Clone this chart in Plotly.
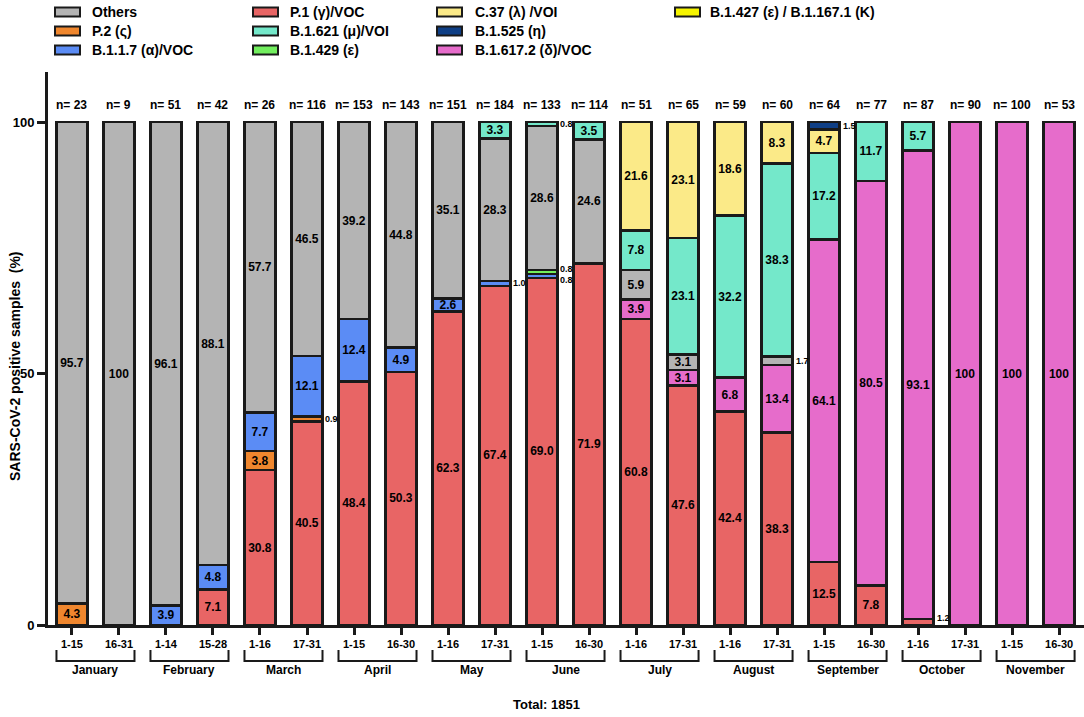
import plotly.graph_objects as go

# categories
PERIODS = ["1-15", "16-31", "1-14", "15-28", "1-16", "17-31", "1-15", "16-30",
           "1-16", "17-31", "1-15", "16-30", "1-16", "17-31", "1-16", "17-31",
           "1-15", "16-30", "1-16", "17-31", "1-15", "16-30"]
MONTHS = ["January", "February", "March", "April", "May", "June", "July",
          "August", "September", "October", "November"]
N_SAMPLES = [23, 9, 51, 42, 26, 116, 153, 143, 151, 184, 133, 114,
             51, 65, 59, 60, 64, 77, 87, 90, 100, 53]

# % of positive samples per lineage (one value per half-month)
P1 = [0, 0, 0, 7.1, 30.8, 40.5, 48.4, 50.3, 62.3, 67.4, 69.0, 71.9,
      60.8, 47.6, 42.4, 38.3, 12.5, 7.8, 1.2, 0, 0, 0]
P2 = [4.3, 0, 0, 0, 3.8, 0.9, 0, 0, 0, 0, 0, 0,
      0, 0, 0, 0, 0, 0, 0, 0, 0, 0]
B117 = [0, 0, 3.9, 4.8, 7.7, 12.1, 12.4, 4.9, 2.6, 1.0, 0.8, 0,
        0, 0, 0, 0, 0, 0, 0, 0, 0, 0]
B1429 = [0, 0, 0, 0, 0, 0, 0, 0, 0, 0, 0.8, 0,
         0, 0, 0, 0, 0, 0, 0, 0, 0, 0]
DELTA = [0, 0, 0, 0, 0, 0, 0, 0, 0, 0, 0, 0,
         3.9, 3.1, 6.8, 13.4, 64.1, 80.5, 93.1, 100, 100, 100]
OTHERS = [95.7, 100, 96.1, 88.1, 57.7, 46.5, 39.2, 44.8, 35.1, 28.3, 28.6, 24.6,
          5.9, 3.1, 0, 1.7, 0, 0, 0, 0, 0, 0]
B1621 = [0, 0, 0, 0, 0, 0, 0, 0, 0, 3.3, 0.8, 3.5,
         7.8, 23.1, 32.2, 38.3, 17.2, 11.7, 5.7, 0, 0, 0]
C37 = [0, 0, 0, 0, 0, 0, 0, 0, 0, 0, 0, 0,
       21.6, 23.1, 18.6, 8.3, 4.7, 0, 0, 0, 0, 0]
B1525 = [0, 0, 0, 0, 0, 0, 0, 0, 0, 0, 0, 0,
         0, 0, 0, 0, 1.5, 0, 0, 0, 0, 0]
B1427 = [0] * 22

# stack order, bottom -> top
SERIES = [
    ("P.1 (γ)/VOC", P1, "#e86565"),
    ("P.2 (ς)", P2, "#f0872e"),
    ("B.1.1.7 (α)/VOC", B117, "#5b8cf5"),
    ("B.1.429 (ε)", B1429, "#72ee5e"),
    ("B.1.617.2 (δ)/VOC", DELTA, "#e66ccb"),
    ("Others", OTHERS, "#b4b4b4"),
    ("B.1.621 (μ)/VOI", B1621, "#74e8ca"),
    ("C.37 (λ) /VOI", C37, "#fbea88"),
    ("B.1.525 (η)", B1525, "#0f3f86"),
    ("B.1.427 (ε) / B.1.167.1 (K)", B1427, "#f6f400"),
]

LEGEND_COLUMNS = [
    ["Others", "P.2 (ς)", "B.1.1.7 (α)/VOC"],
    ["P.1 (γ)/VOC", "B.1.621 (μ)/VOI", "B.1.429 (ε)"],
    ["C.37 (λ) /VOI", "B.1.525 (η)", "B.1.617.2 (δ)/VOC"],
    ["B.1.427 (ε) / B.1.167.1 (K)"],
]

# small segments labelled beside the bar: (bar index, series, vertical nudge px)
SIDE_LABELS = [(5, "P.2 (ς)", 0), (9, "B.1.1.7 (α)/VOC", 0),
               (10, "B.1.621 (μ)/VOI", 0), (10, "B.1.429 (ε)", 3),
               (10, "B.1.1.7 (α)/VOC", -4), (15, "Others", 0),
               (16, "B.1.525 (η)", 0), (18, "P.1 (γ)/VOC", 4)]

FONT = "Arial, Liberation Sans, sans-serif"
INK = "#1a1a1a"

# pixel frame of the plot area
PLOT_L, PLOT_R, PLOT_T, PLOT_B = 48, 1084, 72, 625
Y_TOP = 100 * (PLOT_B - PLOT_T) / 503  # 100% spans ~503 px


def px_x(p):
    return (p - PLOT_L) / (PLOT_R - PLOT_L)


def px_y(p):
    return (PLOT_B - p) / (PLOT_B - PLOT_T)


def fmt(v):
    return "100" if v == 100 else f"{v:.1f}"


x_idx = list(range(len(PERIODS)))
fig = go.Figure()

for name, vals, color in SERIES:
    fig.add_trace(go.Bar(
        x=x_idx,
        y=[v if v else None for v in vals],
        name=name,
        width=0.66,
        marker=dict(color=color, line=dict(color=INK, width=2.6)),
        text=[fmt(v) if v >= 2 else "" for v in vals],
        textposition="inside",
        insidetextanchor="middle",
        textangle=0,
        insidetextfont=dict(family=FONT, size=12, color="black", weight="bold"),
        showlegend=False,
        hovertemplate="%{y}<extra>" + name + "</extra>",
    ))

annotations = []

# n= labels above bars
for i, n in enumerate(N_SAMPLES):
    annotations.append(dict(x=i, y=100, xref="x", yref="y", text=f"n= {n}",
                            showarrow=False, xanchor="center", yanchor="bottom", yshift=8,
                            font=dict(family=FONT, size=12, color="black", weight="bold")))

# side labels for thin segments
lookup = {name: vals for name, vals, _ in SERIES}
order = [name for name, _, _ in SERIES]
for i, sname, nudge in SIDE_LABELS:
    base = sum(lookup[s][i] for s in order[:order.index(sname)])
    v = lookup[sname][i]
    annotations.append(dict(x=i + 0.35, y=base + v / 2, xref="x", yref="y",
                            text=fmt(v), showarrow=False, xanchor="left", yanchor="middle",
                            yshift=nudge,
                            font=dict(family=FONT, size=9, color="black", weight="bold")))

# month brackets under the tick labels
shapes = []
for m, month in enumerate(MONTHS):
    x0, x1 = 2 * m - 0.33, 2 * m + 1 + 0.33
    top, bot = px_y(650), px_y(661)
    shapes.append(dict(type="path", xref="x", yref="paper",
                       path=f"M{x0},{top} L{x0},{bot} L{x1},{bot} L{x1},{top}",
                       line=dict(color=INK, width=2)))
    annotations.append(dict(x=2 * m + 0.5, y=px_y(670), xref="x", yref="paper",
                            text=month, showarrow=False,
                            xanchor="center", yanchor="middle",
                            font=dict(family=FONT, size=12, color="black", weight="bold")))

annotations.append(dict(x=px_x(546), y=px_y(704), xref="paper", yref="paper",
                        text=f"Total: {sum(N_SAMPLES)}", showarrow=False,
                        xanchor="center", yanchor="middle",
                        font=dict(family=FONT, size=13, color="black", weight="bold")))

annotations.append(dict(x=px_x(15), y=px_y(366), xref="paper", yref="paper",
                        text="SARS-CoV-2 positive samples  (%)", textangle=-90,
                        showarrow=False, xanchor="center", yanchor="middle",
                        font=dict(family=FONT, size=14, color="black", weight="bold")))

# legend drawn as swatches + text
colors = {name: color for name, _, color in SERIES}
swatch_x = [55, 253, 437, 675]
text_x = [90, 288, 473, 708]
row_y = [12, 31, 50]
for c, col in enumerate(LEGEND_COLUMNS):
    for r, name in enumerate(col):
        shapes.append(dict(type="rect", xref="paper", yref="paper",
                           x0=px_x(swatch_x[c]), x1=px_x(swatch_x[c] + 25),
                           y0=px_y(row_y[r] - 4.5), y1=px_y(row_y[r] + 4.5),
                           fillcolor=colors[name], line=dict(color=INK, width=2)))
        annotations.append(dict(x=px_x(text_x[c]), y=px_y(row_y[r]),
                                xref="paper", yref="paper", text=name,
                                showarrow=False, xanchor="left", yanchor="middle",
                                font=dict(family=FONT, size=14, color="black", weight="bold")))

fig.update_layout(
    width=1084, height=717,
    barmode="stack",
    paper_bgcolor="white", plot_bgcolor="white",
    margin=dict(l=PLOT_L, r=1084 - PLOT_R, t=PLOT_T, b=717 - PLOT_B),
    font=dict(family=FONT, color="black"),
    uniformtext=dict(minsize=12, mode="show"),
    shapes=shapes,
    annotations=annotations,
    showlegend=False,
)

fig.update_xaxes(
    range=[-0.51, 21.53],
    tickmode="array", tickvals=x_idx, ticktext=PERIODS,
    ticks="outside", ticklen=7, tickwidth=3, tickcolor=INK,
    tickfont=dict(family=FONT, size=11, color="black", weight="bold"),
    showline=True, linewidth=3, linecolor=INK,
    showgrid=False, zeroline=False,
)
fig.update_yaxes(
    range=[0, Y_TOP],
    tickmode="array", tickvals=[0, 50, 100],
    ticks="outside", ticklen=8, tickwidth=3, tickcolor=INK,
    tickfont=dict(family=FONT, size=13, color="black", weight="bold"),
    showline=True, linewidth=3, linecolor=INK,
    showgrid=False, zeroline=False,
)

# drop the default page margin so the figure sits at the window's top-left
fig.write_html("out.html", config={"displayModeBar": False},
               post_script="document.body.style.margin='0';")
